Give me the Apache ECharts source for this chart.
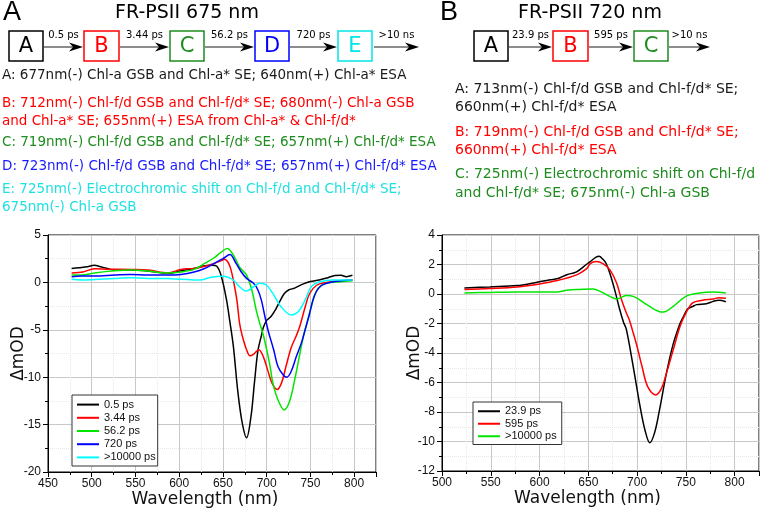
<!DOCTYPE html>
<html><head><meta charset="utf-8">
<script src="https://cdn.jsdelivr.net/npm/echarts@6/dist/echarts.min.js"></script>
<style>html,body{margin:0;padding:0;background:#fff}#c{width:762px;height:513px}</style>
</head><body><div id="c"></div>
<script>
// ---- Panel A data (FR-PSII 675 nm) ----
const namesA = ['0.5 ps', '3.44 ps', '56.2 ps', '720 ps', '>10000 ps'];
const colorsA = ['#000000', '#ff0000', '#00e600', '#0000ff', '#00ffff'];
const wlA_05 = [477,485,495,503,510,518,526,545,564,587,602,617,629,638,643,648,654,658,662,667,672,677,682,686,690,694,696,700,705,710,715,720,725,732,742,750,760,770,778,785,791,798];
const vA_05  = [1.47,1.55,1.65,1.82,1.65,1.47,1.3,1.3,1.2,0.95,1.23,1.47,1.75,1.8,1.7,0.7,-1.8,-4.2,-6.8,-11.5,-14.8,-16.4,-14.2,-10.6,-7.2,-5.6,-4.8,-4.0,-3.6,-2.9,-2.0,-1.2,-0.8,-0.6,-0.15,0.1,0.25,0.5,0.72,0.75,0.6,0.75];
const wlA_344 = [477,490,503,520,545,565,587,602,617,629,640,648,652,656,659,662,666,669,672,677,681,686,691,696,701,706,712,717,722,728,734,738,744,749,757,768,784,798];
const vA_344  = [1.0,1.1,1.45,1.4,1.37,1.3,1.0,1.37,1.47,1.7,2.0,2.3,2.45,2.1,1.4,0.2,-1.9,-4.3,-5.6,-7.1,-7.75,-7.5,-7.1,-7.8,-9.2,-10.6,-11.3,-10.6,-8.9,-6.9,-5.6,-4.6,-2.6,-1.2,-0.3,0.0,0.17,0.25];
const wlA_562 = [477,488,503,526,545,564,587,602,617,629,640,648,655,662,669,677,683,688,692,696,700,704,707,713,720,726,732,738,743,747,753,759,768,784,798];
const vA_562  = [0.77,0.77,1.0,1.23,1.3,1.2,1.0,1.1,1.37,2.0,2.6,3.2,3.58,2.87,1.6,0.77,-0.8,-2.9,-4.3,-5.5,-7.1,-8.9,-10.6,-12.4,-13.45,-12.6,-10.3,-7.5,-5.3,-4.0,-1.9,-0.6,-0.1,0.07,0.17];
const wlA_720 = [477,488,503,526,545,564,587,602,617,629,640,650,658,665,671,677,685,690,694,698,702,708,713,719,723,728,734,740,744,749,755,763,776,798];
const vA_720  = [0.6,0.67,0.67,0.77,0.84,0.77,0.77,0.84,1.1,1.47,2.0,2.5,2.94,2.0,1.1,0.42,-0.1,-0.8,-1.9,-3.6,-5.2,-7.1,-8.9,-9.76,-10.0,-9.4,-7.8,-6.3,-5.0,-3.3,-1.3,-0.3,0.07,0.25];
const wlA_inf = [477,488,503,526,545,564,587,602,617,624,635,650,656,662,669,677,685,692,700,707,715,723,728,736,744,751,761,776,798];
const vA_inf  = [0.32,0.25,0.3,0.42,0.49,0.42,0.42,0.32,0.25,0.24,0.52,0.66,0.55,0.24,-0.46,-0.92,-0.46,-0.1,-0.3,-1.16,-2.4,-3.2,-3.44,-3.1,-1.86,-0.46,0.07,0.24,0.24];

// ---- Panel B data (FR-PSII 720 nm) ----
const namesB = ['23.9 ps', '595 ps', '>10000 ps '];
const colorsB = ['#000000', '#ff0000', '#00e600'];
const wlB_239 = [523,549,577,594,611,618,628,638,648,652,658,661,665,668,672,677,682,686,689,696,703,708,713,718,723,730,737,744,747,752,757,761,771,778,784,791];
const vB_239  = [0.41,0.48,0.57,0.75,0.97,1.03,1.31,1.5,2.0,2.2,2.5,2.56,2.35,2.1,1.43,0.3,-1.0,-1.9,-2.4,-4.9,-7.6,-9.2,-10.08,-9.4,-7.86,-5.4,-3.4,-2.0,-1.6,-1.0,-0.85,-0.72,-0.66,-0.5,-0.43,-0.52];
const wlB_595 = [523,549,577,600,618,638,648,652,658,665,672,679,684,689,692,695,700,705,711,719,725,730,737,744,750,757,767,778,784,791];
const vB_595  = [0.3,0.37,0.48,0.68,0.91,1.3,1.7,2.06,2.2,2.06,1.65,0.75,-0.38,-1.29,-1.74,-2.4,-3.56,-4.9,-6.3,-6.84,-6.4,-5.4,-3.8,-2.2,-1.3,-0.6,-0.43,-0.34,-0.25,-0.29];
const wlB_inf = [523,549,577,600,618,628,638,655,662,672,679,689,696,710,723,727,737,750,764,778,791];
const vB_inf  = [0.07,0.11,0.14,0.14,0.14,0.25,0.3,0.34,0.18,-0.16,-0.34,-0.11,-0.16,-0.72,-1.2,-1.22,-0.84,-0.16,0.07,0.14,0.07];

const seriesA = [[wlA_05,vA_05],[wlA_344,vA_344],[wlA_562,vA_562],[wlA_720,vA_720],[wlA_inf,vA_inf]];
const seriesB = [[wlB_239,vB_239],[wlB_595,vB_595],[wlB_inf,vB_inf]];
const pairs = (w, v) => w.map((x, i) => [x, v[i]]);

const AX = 'Liberation Sans, Arial, sans-serif';
const TX = 'DejaVu Sans, Verdana, sans-serif';

function xAxis(gi, min, padR) {
  return {
    type: 'value', gridIndex: gi, min: min, max: 825, interval: 50,
    name: 'Wavelength (nm)', nameLocation: 'middle', nameGap: 19, nameMoveOverlap: false,
    nameTextStyle: { fontFamily: TX, fontSize: 17, color: '#111', padding: [0, padR, 0, 0] },
    axisLine: { show: true, onZero: false, lineStyle: { color: '#000', width: 1 } },
    axisTick: { show: true, inside: false, length: 5, lineStyle: { color: '#000' } },
    minorTick: { show: true, splitNumber: 2, length: 3, lineStyle: { color: '#000' } },
    axisLabel: { fontFamily: AX, fontSize: 12, color: '#111', margin: 6, showMaxLabel: false },
    splitLine: { show: true, lineStyle: { color: '#c8c8c8', width: 1 } },
    minorSplitLine: { show: true, lineStyle: { color: '#e8e8e8', width: 1, type: 'dotted' } }
  };
}
function yAxis(gi, min, max, interval, gap) {
  return {
    type: 'value', gridIndex: gi, min: min, max: max, interval: interval,
    name: 'ΔmOD', nameLocation: 'middle', nameGap: gap, nameRotate: 90, nameMoveOverlap: false,
    nameTextStyle: { fontFamily: TX, fontSize: 17, color: '#111' },
    axisLine: { show: true, onZero: false, lineStyle: { color: '#000', width: 1 } },
    axisTick: { show: true, inside: false, length: 5, lineStyle: { color: '#000' } },
    minorTick: { show: true, splitNumber: 2, length: 3, lineStyle: { color: '#000' } },
    axisLabel: { fontFamily: AX, fontSize: 12, color: '#111', margin: 7 },
    splitLine: { show: true, lineStyle: { color: '#c8c8c8', width: 1 } },
    minorSplitLine: { show: true, lineStyle: { color: '#e8e8e8', width: 1, type: 'dotted' } }
  };
}

const series = [];
seriesA.forEach((s, i) => series.push({
  type: 'line', name: namesA[i], xAxisIndex: 0, yAxisIndex: 0, data: pairs(s[0], s[1]),
  showSymbol: false, symbol: 'none', smooth: 0.35, lineStyle: { color: colorsA[i], width: 1.5 },
  itemStyle: { color: colorsA[i] }, z: 3, animation: false
}));
seriesB.forEach((s, i) => series.push({
  type: 'line', name: namesB[i], xAxisIndex: 1, yAxisIndex: 1, data: pairs(s[0], s[1]),
  showSymbol: false, symbol: 'none', smooth: 0.35, lineStyle: { color: colorsB[i], width: 1.5 },
  itemStyle: { color: colorsB[i] }, z: 3, animation: false
}));

// ---- Header graphics ----
const g = [];
function txt(x, y, s, color, size, font, align, weight) {
  g.push({ type: 'text', x: x, y: y, style: { text: s, fill: color, fontSize: size, fontFamily: font || TX,
    textAlign: align || 'left', textVerticalAlign: 'middle', fontWeight: weight || 'normal' } });
}
function box(x1, x2, label, color) {
  g.push({ type: 'rect', shape: { x: x1, y: 31, width: x2 - x1, height: 30 }, style: { fill: '#fff', stroke: color, lineWidth: 1.5 } });
  txt((x1 + x2) / 2, 46.5, label, color, 21, TX, 'center');
}
function arrow(x1, x2, label) {
  g.push({ type: 'line', shape: { x1: x1, y1: 47, x2: x2 - 8, y2: 47 }, style: { stroke: '#666', lineWidth: 1.5 } });
  g.push({ type: 'polygon', shape: { points: [[x2, 47], [x2 - 14, 42.5], [x2 - 10, 47], [x2 - 14, 51.5]] }, style: { fill: '#000' } });
  txt((x1 + x2) / 2, 35.5, label, '#000', 10, TX, 'center');
}
// Panel A header
txt(3, 13, 'A', '#000', 27, AX);
txt(187, 13, 'FR-PSII 675 nm', '#000', 19, TX, 'center');
box(9, 43, 'A', '#000');
box(84, 119, 'B', '#ff0000');
box(170, 204, 'C', '#1e8c1e');
box(255, 289, 'D', '#0000ff');
box(338, 372, 'E', '#00e5e5');
arrow(44, 83, '0.5 ps');
arrow(120, 169, '3.44 ps');
arrow(205, 254, '56.2 ps');
arrow(290, 337, '720 ps');
arrow(374, 419, '>10 ns');
const fsA = 13.5;
txt(2, 75, 'A: 677nm(-) Chl-a GSB and Chl-a* SE; 640nm(+) Chl-a* ESA', '#1a1a1a', fsA);
txt(2, 103, 'B: 712nm(-) Chl-f/d GSB and Chl-f/d* SE; 680nm(-) Chl-a GSB', '#ff0000', fsA);
txt(2, 121, 'and Chl-a* SE; 655nm(+) ESA from Chl-a* & Chl-f/d*', '#ff0000', fsA);
txt(2, 142, 'C: 719nm(-) Chl-f/d GSB and Chl-f/d* SE; 657nm(+) Chl-f/d* ESA', '#1e8c1e', fsA);
txt(2, 166, 'D: 723nm(-) Chl-f/d GSB and Chl-f/d* SE; 657nm(+) Chl-f/d* ESA', '#1a1aff', fsA);
txt(2, 189, 'E: 725nm(-) Electrochromic shift on Chl-f/d and Chl-f/d* SE;', '#22e0e0', fsA);
txt(2, 207, '675nm(-) Chl-a GSB', '#22e0e0', fsA);
// Panel B header
txt(440, 13, 'B', '#000', 27, AX);
txt(590, 13, 'FR-PSII 720 nm', '#000', 19, TX, 'center');
box(474, 508, 'A', '#000');
box(553, 588, 'B', '#ff0000');
box(634, 668, 'C', '#1e8c1e');
arrow(509, 552, '23.9 ps');
arrow(589, 633, '595 ps');
arrow(669, 710, '>10 ns');
const fsB = 14;
txt(455, 89, 'A: 713nm(-) Chl-f/d GSB and Chl-f/d* SE;', '#1a1a1a', fsB);
txt(455, 107, '660nm(+) Chl-f/d* ESA', '#1a1a1a', fsB);
txt(455, 132, 'B: 719nm(-) Chl-f/d GSB and Chl-f/d* SE;', '#ff0000', fsB);
txt(455, 150, '660nm(+) Chl-f/d* ESA', '#ff0000', fsB);
txt(455, 174, 'C: 725nm(-) Electrochromic shift on Chl-f/d', '#1e8c1e', fsB);
txt(455, 193, 'and Chl-f/d* SE; 675nm(-) Chl-a GSB', '#1e8c1e', fsB);

const legendCommon = {
  orient: 'vertical', icon: 'rect', itemWidth: 22, itemHeight: 2, itemGap: 0,
  backgroundColor: '#fff', borderColor: '#333', borderWidth: 1,
  textStyle: { fontFamily: AX, fontSize: 11, color: '#111' }
};

const option = {
  animation: false,
  grid: [
    { left: 48, top: 235, width: 328, height: 237, show: true, borderColor: '#000', borderWidth: 1, backgroundColor: 'transparent' },
    { left: 442, top: 235, width: 317, height: 236, show: true, borderColor: '#000', borderWidth: 1, backgroundColor: 'transparent' }
  ],
  xAxis: [xAxis(0, 450, 14), xAxis(1, 500, 26)],
  yAxis: [yAxis(0, -20, 5, 5, 21), yAxis(1, -12, 4, 2, 19)],
  legend: [
    Object.assign({}, legendCommon, { data: namesA, left: 72, top: 395, padding: [3, 2, 2, 5],
      textStyle: Object.assign({}, legendCommon.textStyle, { lineHeight: 13.2 }) }),
    Object.assign({}, legendCommon, { data: namesB, left: 473, top: 402, padding: [3, 2, 2, 5],
      textStyle: Object.assign({}, legendCommon.textStyle, { lineHeight: 12.5 }) })
  ],
  graphic: g,
  series: series
};
const chart = echarts.init(document.getElementById('c'), null, { renderer: 'canvas' });
chart.setOption(option);
</script></body></html>
